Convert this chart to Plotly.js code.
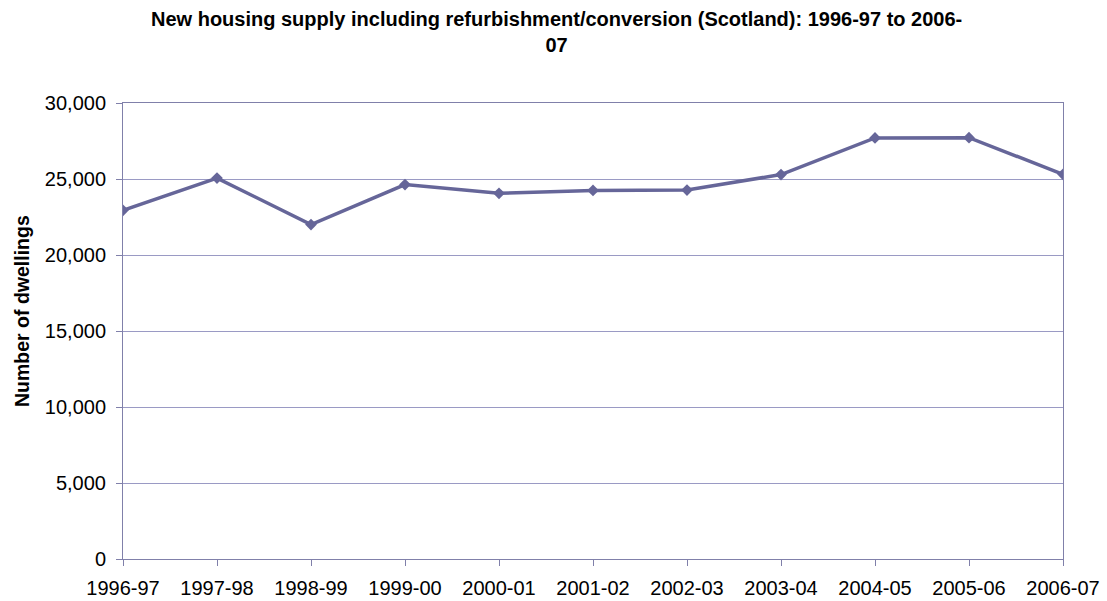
<!DOCTYPE html>
<html>
<head>
<meta charset="utf-8">
<script src="https://cdn.plot.ly/plotly-3.0.1.min.js"></script>
<style>html,body{margin:0;padding:0;background:#fff;}#chart{width:1107px;height:601px;}</style>
</head>
<body>
<div id="chart"></div>
<script>
const years = ["1996-97","1997-98","1998-99","1999-00","2000-01","2001-02","2002-03","2003-04","2004-05","2005-06","2006-07"];
const dwellings = [22940, 25060, 22000, 24630, 24060, 24250, 24270, 25290, 27700, 27720, 25310];
const yTickVals = [0, 5000, 10000, 15000, 20000, 25000, 30000];
const yTickText = ["0", "5,000", "10,000", "15,000", "20,000", "25,000", "30,000"];
const titleText = "<b>New housing supply including refurbishment/conversion (Scotland): 1996-97 to 2006-<br>07</b>";
const yTitleText = "<b>Number of dwellings</b>";

// plot area in pixels: left 123, right 1063, top 103, bottom 559
const pxX = px => (px - 123) / 940;
const pxY = py => (559 - py) / 456;

const trace = {
  x: years.map((_, i) => i),
  y: dwellings,
  type: "scatter",
  mode: "lines+markers",
  line: {color: "#666699", width: 3.5},
  marker: {symbol: "diamond", size: 9, color: "#666699"},
  hoverinfo: "skip"
};

const layout = {
  width: 1107, height: 601,
  margin: {l: 123, r: 44, t: 103, b: 42},
  paper_bgcolor: "#ffffff", plot_bgcolor: "#ffffff",
  font: {family: "Arial, 'Liberation Sans', sans-serif", color: "#000000"},
  showlegend: false,
  xaxis: {
    range: [0, years.length - 1],
    tickmode: "array",
    tickvals: years.map((_, i) => i),
    ticktext: years,
    tickfont: {size: 20},
    ticks: "outside", ticklen: 6, tickcolor: "#8080aa",
    ticklabelstandoff: 5,
    showgrid: false, zeroline: false,
    showline: true, linecolor: "#8080aa", linewidth: 1, mirror: true
  },
  yaxis: {
    range: [0, 30000],
    tickmode: "array",
    tickvals: yTickVals,
    ticktext: yTickText,
    tickfont: {size: 20},
    ticks: "outside", ticklen: 6, tickcolor: "#8080aa",
    ticklabelstandoff: 6,
    showgrid: true, gridcolor: "#9a9ac4", gridwidth: 1,
    zeroline: false,
    showline: true, linecolor: "#8080aa", linewidth: 1, mirror: true
  },
  annotations: [
    {
      text: titleText,
      xref: "paper", yref: "paper",
      x: pxX(556), y: pxY(6),
      xanchor: "center", yanchor: "top", align: "center",
      showarrow: false,
      font: {size: 20, color: "#000000"}
    },
    {
      text: yTitleText,
      textangle: -90,
      xref: "paper", yref: "paper",
      x: pxX(22), y: pxY(311),
      xanchor: "center", yanchor: "middle",
      showarrow: false,
      font: {size: 19.5, color: "#000000"}
    }
  ]
};

Plotly.newPlot("chart", [trace], layout, {displayModeBar: false, staticPlot: true});
</script>
</body>
</html>
